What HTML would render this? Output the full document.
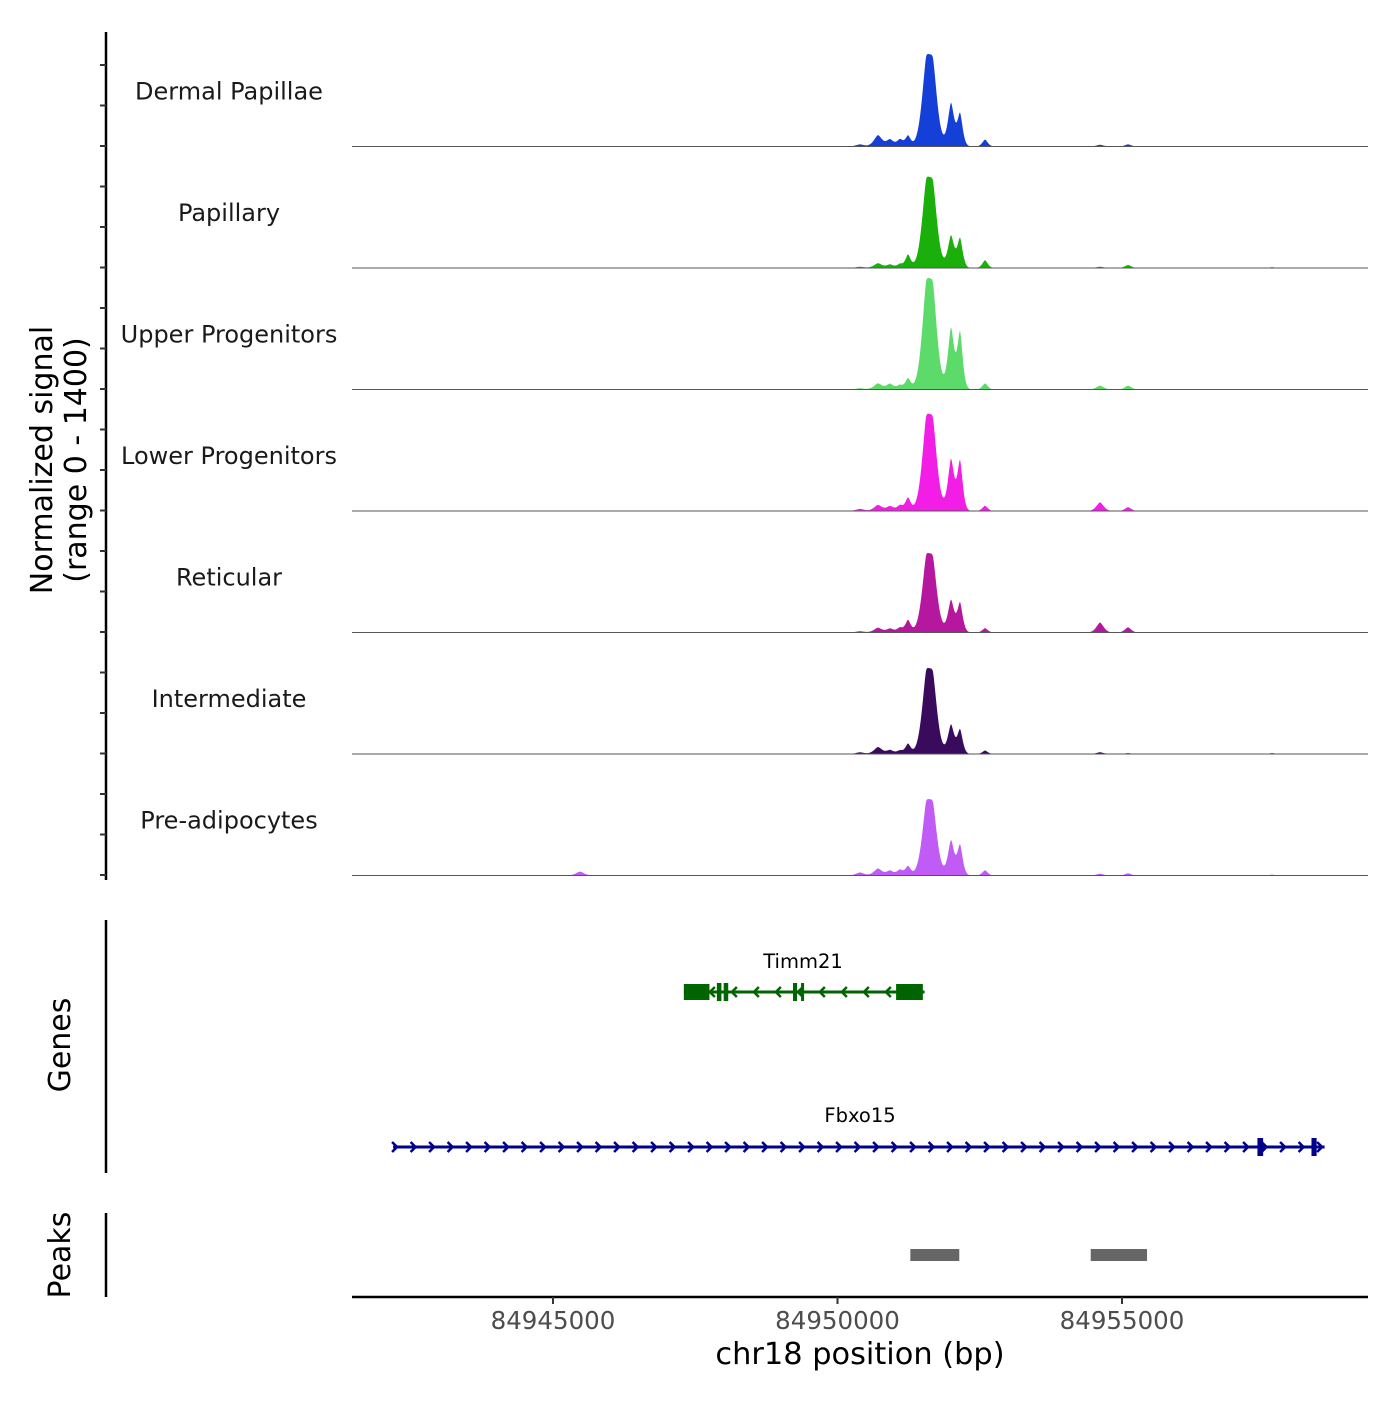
<!DOCTYPE html>
<html><head><meta charset="utf-8"><style>
body{margin:0;background:#fff}
svg text{font-family:"DejaVu Sans","Liberation Sans",sans-serif}
</style></head><body>
<svg id="chart" width="1400" height="1400" viewBox="0 0 1400 1400" xmlns="http://www.w3.org/2000/svg"></svg>
<script>
const trackNames = ["Dermal Papillae","Papillary","Upper Progenitors","Lower Progenitors","Reticular","Intermediate","Pre-adipocytes"];
const trackColors = ["#1540D8","#1AAF0A","#5CDB6A","#F21EE6","#B5179E","#3A0A5C","#C15BF5"];
// peak centers (bp) and widths (bp)
const peakCenters = [84950396,84950712,84950923,84951099,84951240,84951556,84951679,84951995,84952153,84952593,84954614,84955106,84945475,84957637];
const peakWidths  = [90,90,80,70,60,100,100,70,60,60,80,70,90,60];
// heights in signal units (range 0-1400) per track
const dermalH = [25,130,80,80,120,790,770,495,370,80,20,25,0,0];
const papillaryH = [15,55,40,45,150,780,760,370,335,90,15,35,0,10];
const upperH = [15,70,65,50,125,950,930,700,645,70,45,45,0,0];
const lowerH = [25,70,55,65,150,830,810,590,565,60,100,45,0,0];
const reticularH = [15,55,45,55,140,680,660,370,335,50,115,60,0,0];
const intermediateH = [20,80,45,40,115,735,715,335,275,40,20,10,0,10];
const preadipH = [35,80,55,65,105,650,640,400,345,60,20,25,45,10];
const trackHeights = [dermalH,papillaryH,upperH,lowerH,reticularH,intermediateH,preadipH];
const xTicks = [84945000,84950000,84955000];
const xTickLabels = ["84945000","84950000","84955000"];
const timm21 = {name:"Timm21", start:84947300, end:84951530, strand:-1, exons:[[84947300,84947750],[84947880,84947960],[84948000,84948080],[84949218,84949290],[84949360,84949394],[84951030,84951500]]};
const fbxo15 = {name:"Fbxo15", start:84942190, end:84958560, strand:1, exons:[[84957380,84957480],[84958330,84958420]]};
const peakRegions = [[84951280,84952140],[84954450,84955440]];

const svg=document.getElementById('chart');
const NS="http://www.w3.org/2000/svg";
const X0=352,X1=1368,BP0=84941468,BP1=84959323;
const xs=bp=>X0+(bp-BP0)/(BP1-BP0)*(X1-X0);
const TRACK_H=121.5, BASE0=146.5, YSCALE=TRACK_H/1400*0.75;
function mk(tag,attrs,parent){const e=document.createElementNS(NS,tag);for(const k in attrs)e.setAttribute(k,attrs[k]);(parent||svg).appendChild(e);return e;}

const ax=mk('line',{x1:106,y1:32,x2:106,y2:880,stroke:'#000','stroke-width':2.5});


for(let y=875;y>=60;y-=TRACK_H/3){const t=mk('line',{x1:100,y1:y,x2:106,y2:y,stroke:'#333','stroke-width':2});

}

trackNames.forEach((nm,i)=>{
  const base=BASE0+i*TRACK_H;
  const H=trackHeights[i];
  let d=`M${X0},${base}`;
  for(let px=X0;px<=X1;px+=0.5){
    const bp=BP0+(px-X0)/(X1-X0)*(BP1-BP0);
    let v=0;
    for(let k=0;k<peakCenters.length;k++){const z=(bp-peakCenters[k])/peakWidths[k];v+=H[k]*Math.exp(-Math.pow(Math.abs(z),1.6)/1.2);}
    d+=`L${px},${(base-v*YSCALE*1.333).toFixed(2)}`;
  }
  d+=`L${X1},${base}Z`;
  const p=mk('path',{d:d,fill:trackColors[i]});
  
  
  const bl=mk('line',{x1:X0,y1:base,x2:X1,y2:base,stroke:'#555','stroke-width':1});
  
  
  const lb=mk('text',{x:229,y:base-47,'text-anchor':'middle','font-size':24,fill:'#1a1a1a'});
  lb.textContent=nm;
  
  
});

function yTitle(lines,x,y,name){
  const t=mk('text',{transform:`translate(${x},${y}) rotate(-90)`,'text-anchor':'middle','font-size':30,fill:'#000'});
  lines.forEach((l,j)=>{const ts=mk('tspan',{x:0,dy:j?34:0},t);ts.textContent=l;});
  
  
}
yTitle(["Normalized signal","(range 0 - 1400)"],52,460,'signal-y-title');

const ga=mk('line',{x1:106,y1:920,x2:106,y2:1173,stroke:'#000','stroke-width':2.5});


yTitle(["Genes"],70,1045,'genes-title');
function drawGene(g,y,color,lx,ly,name){
  const grp=mk('g',{});
  
  
  mk('line',{x1:xs(g.start),y1:y,x2:xs(g.end),y2:y,stroke:color,'stroke-width':3},grp);
  const step=g.strand>0?18.5:22;
  for(let px=xs(g.start)+4;px<=xs(g.end);px+=step){
    const s=g.strand*5;
    mk('polyline',{points:`${px-s},${y-5} ${px},${y} ${px-s},${y+5}`,fill:'none',stroke:color,'stroke-width':2.5},grp);
  }
  g.exons.forEach(e=>{const w=xs(e[1])-xs(e[0]);const h=w>15?16:18;
    mk('rect',{x:xs(e[0]),y:y-h/2,width:Math.max(w,3),height:h,fill:color},grp);});
  const t=mk('text',{x:lx,y:ly,'text-anchor':'middle','font-size':19.5,fill:'#000'},grp);
  t.textContent=g.name;
}
drawGene(timm21,992,'#006400',803,968,'gene-timm21');
drawGene(fbxo15,1147,'#00008B',860,1122,'gene-fbxo15');

const pa=mk('line',{x1:106,y1:1213,x2:106,y2:1297,stroke:'#000','stroke-width':2.5});


yTitle(["Peaks"],70,1255,'peaks-title');
peakRegions.forEach(r=>{const e=mk('rect',{x:xs(r[0]),y:1249,width:xs(r[1])-xs(r[0]),height:12,fill:'#666'});

});

const xa=mk('line',{x1:X0,y1:1297,x2:X1,y2:1297,stroke:'#000','stroke-width':2.5});


xTicks.forEach((v,i)=>{
  const tk=mk('line',{x1:xs(v),y1:1297,x2:xs(v),y2:1304,stroke:'#333','stroke-width':2});
  
  
  const t=mk('text',{x:xs(v),y:1329,'text-anchor':'middle','font-size':24.5,fill:'#4d4d4d'});
  t.textContent=xTickLabels[i];
  
  
});
const xt=mk('text',{x:860,y:1364,'text-anchor':'middle','font-size':30.4,fill:'#000'});
xt.textContent="chr18 position (bp)";


</script>
</body></html>
